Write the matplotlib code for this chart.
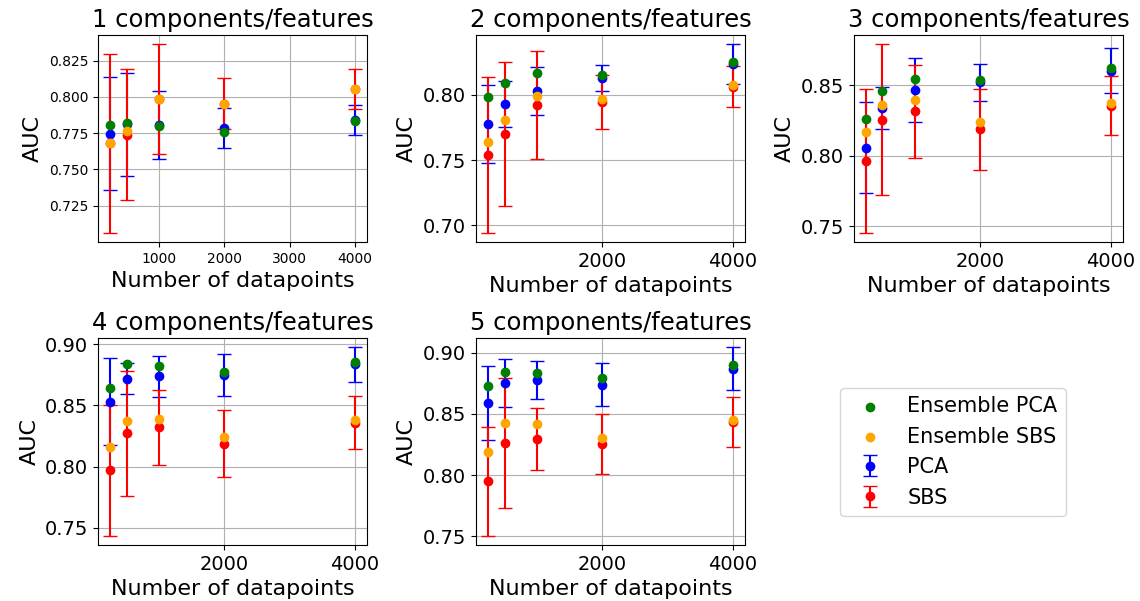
import numpy as np
import matplotlib
matplotlib.use('Agg')
import matplotlib.pyplot as plt

# Number of datapoints used for training
n_points = [250, 500, 1000, 2000, 4000]

# AUC means and error (half width) per number of components/features
pca_mean = [
    [0.7747, 0.7810, 0.7804, 0.7786, 0.7838],
    [0.7776, 0.7931, 0.8028, 0.8130, 0.8234],
    [0.8056, 0.8338, 0.8467, 0.8520, 0.8603],
    [0.8531, 0.8716, 0.8739, 0.8747, 0.8834],
    [0.8588, 0.8753, 0.8775, 0.8740, 0.8870],
]
pca_err = [
    [0.0390, 0.0352, 0.0234, 0.0140, 0.0104],
    [0.0300, 0.0176, 0.0184, 0.0098, 0.0153],
    [0.0322, 0.0150, 0.0228, 0.0132, 0.0159],
    [0.0354, 0.0126, 0.0168, 0.0172, 0.0139],
    [0.0305, 0.0197, 0.0157, 0.0176, 0.0173],
]
sbs_mean = [
    [0.7680, 0.7740, 0.7986, 0.7953, 0.8052],
    [0.7543, 0.7700, 0.7922, 0.7944, 0.8062],
    [0.7966, 0.8256, 0.8314, 0.8188, 0.8355],
    [0.7969, 0.8273, 0.8320, 0.8186, 0.8360],
    [0.7949, 0.8261, 0.8295, 0.8254, 0.8434],
]
sbs_err = [
    [0.0615, 0.0450, 0.0377, 0.0177, 0.0138],
    [0.0597, 0.0553, 0.0410, 0.0207, 0.0156],
    [0.0509, 0.0534, 0.0326, 0.0288, 0.0209],
    [0.0532, 0.0511, 0.0304, 0.0273, 0.0215],
    [0.0444, 0.0531, 0.0257, 0.0243, 0.0205],
]
ens_pca = [
    [0.7806, 0.7818, 0.7802, 0.7760, 0.7832],
    [0.7987, 0.8087, 0.8166, 0.8150, 0.8250],
    [0.8264, 0.8462, 0.8547, 0.8540, 0.8623],
    [0.8645, 0.8836, 0.8825, 0.8773, 0.8852],
    [0.8732, 0.8842, 0.8833, 0.8792, 0.8896],
]
ens_sbs = [
    [0.7680, 0.7765, 0.7988, 0.7953, 0.8052],
    [0.7640, 0.7806, 0.7992, 0.7969, 0.8077],
    [0.8170, 0.8363, 0.8396, 0.8243, 0.8373],
    [0.8161, 0.8372, 0.8388, 0.8243, 0.8385],
    [0.8189, 0.8426, 0.8421, 0.8303, 0.8448],
]

# Tick labels per subplot
x_ticks = [[1000, 2000, 3000, 4000], [2000, 4000], [2000, 4000], [2000, 4000], [2000, 4000]]
y_ticks = [
    [0.725, 0.750, 0.775, 0.800, 0.825],
    [0.70, 0.75, 0.80],
    [0.75, 0.80, 0.85],
    [0.75, 0.80, 0.85, 0.90],
    [0.75, 0.80, 0.85, 0.90],
]

fig, axes = plt.subplots(2, 3, figsize=(11.4, 6.01), dpi=100)
axes = axes.flatten()

for i in range(5):
    ax = axes[i]
    ax.errorbar(n_points, pca_mean[i], yerr=pca_err[i], fmt='o', color='blue',
                capsize=5, label='PCA')
    ax.errorbar(n_points, sbs_mean[i], yerr=sbs_err[i], fmt='o', color='red',
                capsize=5, label='SBS')
    ax.scatter(n_points, ens_pca[i], color='green', label='Ensemble PCA', zorder=3)
    ax.scatter(n_points, ens_sbs[i], color='orange', label='Ensemble SBS', zorder=3)
    ax.set_title(f'{i + 1} components/features', fontsize=17.5)
    ax.set_xlabel('Number of datapoints', fontsize=16)
    ax.set_ylabel('AUC', fontsize=16)
    ax.set_xticks(x_ticks[i])
    ax.set_yticks(y_ticks[i])
    ax.tick_params(labelsize=10 if i == 0 else 14)
    ax.grid(True)

axes[5].axis('off')

handles, labels = axes[0].get_legend_handles_labels()
fig.legend(handles, labels, loc='center', bbox_to_anchor=(0.836, 0.248),
           fontsize=15)

plt.subplots_adjust(left=0.086, right=0.985, top=0.942, bottom=0.093,
                    wspace=0.405, hspace=0.464)

plt.savefig('out.png', dpi=100)
